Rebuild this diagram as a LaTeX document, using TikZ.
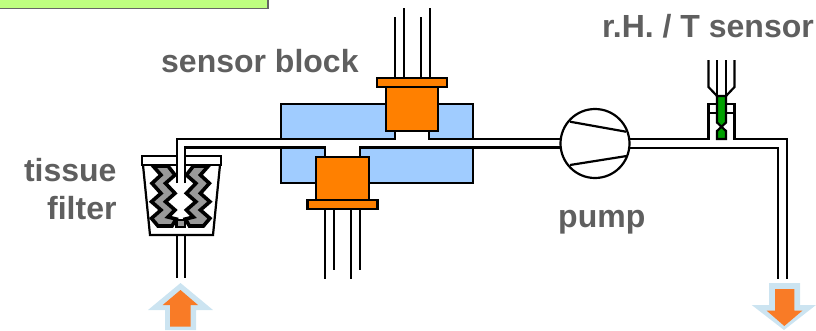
\documentclass[tikz,border=0pt]{standalone}
\usepackage{fontspec}
\setmainfont{Liberation Sans}
\definecolor{txtgray}{HTML}{5F5F5F}
\definecolor{blockblue}{HTML}{A0CCFF}
\definecolor{sensororange}{HTML}{FF8000}
\definecolor{arroworange}{HTML}{F97B26}
\definecolor{arrowblue}{HTML}{CCE4F1}
\definecolor{sensorgreen}{HTML}{00A000}
\definecolor{boxgreen}{HTML}{BEFF80}
\definecolor{bandgray}{HTML}{999999}
\tikzset{
  pipe/.style={draw=black,line width=2.2pt,line join=miter},
  pin/.style={draw=black,line width=2pt},
  block/.style={draw=black,line width=2.2pt,fill=blockblue},
  sensorpart/.style={draw=black,line width=2.2pt,fill=sensororange},
  band/.style={draw=black,line width=3.6pt,fill=bandgray,line join=miter},
  label/.style={inner sep=0pt,anchor=base,text=txtgray,font=\fontsize{32}{32}\selectfont\bfseries},
}
\newcommand{\filterband}{%
  \path[band] (153,166)--(161,175)--(152,183.3)--(161,193.3)--(151.5,201.7)--(161,210)--(151.5,218.3)--(158,226)--(172,226)--(176,219)--(168,217)--(175,210)--(165.5,201.7)--(175,193.3)--(165.5,183.3)--(175,175)--(168,166)--cycle;
}
\begin{document}
\begin{tikzpicture}[x=1pt,y=-1pt]
\useasboundingbox (0,0) rectangle (816,330);
% green box
\fill[boxgreen] (0,0) rectangle (268,8.5);
\draw[draw=black!60,line width=1.6pt] (0,8.5)--(268,8.5)--(268,0);
% sensor block bodies
\path[block] (281,104) rectangle (473,139);
\path[block] (281,147.5) rectangle (473,183);
% tube interior
\fill[white] (177,139) rectangle (560,147.5);
\fill[white] (395,130) rectangle (429,140);
\fill[white] (325,147) rectangle (360,157);
% sensors
\path[sensorpart] (386,87) rectangle (438,131);
\path[sensorpart] (377,78) rectangle (447,87);
\path[sensorpart] (316,157) rectangle (369,200);
\path[sensorpart] (307.5,200) rectangle (377.5,209);
% pins
\draw[pin] (394.5,17)--(394.5,78);
\draw[pin] (403.5,8)--(403.5,78);
\draw[pin] (420.5,17)--(420.5,78);
\draw[pin] (429.5,8)--(429.5,78);
\draw[pin] (325,209)--(325,279);
\draw[pin] (333.5,209)--(333.5,270);
\draw[pin] (351,209)--(351,279);
\draw[pin] (359.5,209)--(359.5,270);
% filter cup
\path[pipe] (142,156) rectangle (221,165);
\path[pipe] (143,165)--(150,235)--(213,235)--(220,165);
\filterband
\begin{scope}[xshift=361.4pt,xscale=-1]
\filterband
\end{scope}
\path[draw=black,line width=2.2pt,fill=bandgray] (176.5,220) rectangle (185,227);
% tube through the cup
\fill[white] (177,147) rectangle (185,183);
% main tube lines
\draw[pipe] (177,183)--(177,139)--(395,139)--(395,131);
\draw[pipe] (429,131)--(429,139)--(562,139);
\draw[pipe] (185,183)--(185,147.5)--(325,147.5)--(325,157);
\draw[pipe] (360,157)--(360,147.5)--(562,147.5);
% lower tube
\draw[pipe] (177,235)--(177,278);
\draw[pipe] (185,235)--(185,278);
% pump
\node[circle,draw=black,line width=2.2pt,fill=white,minimum size=69pt,inner sep=0pt] (pump) at (595,143.5) {};
\draw[pipe] (570,121.7)--(626,131.7);
\draw[pipe] (570,165)--(626.7,156);
% right tube with sensor T
\draw[pipe] (629,139.3)--(708.5,139.3)--(708.5,104)--(734.5,104)--(734.5,139.3)--(787.3,139.3)--(787.3,279);
\draw[pipe] (629,147.7)--(778.3,147.7)--(778.3,279);
\draw[pipe] (708.5,113.3)--(734.5,113.3);
% humidity sensor
\path[draw=black,line width=2.2pt,fill=sensorgreen,line join=miter] (717,96)--(726,96)--(726,122.5)--(717,131)--(717,139)--(726,139)--(726,131)--(717,122.5)--cycle;
\draw[pipe] (708.5,60)--(708.5,87)--(717,96);
\draw[pipe] (734.5,60)--(734.5,87)--(726,96);
\draw[pipe] (717,60)--(717,96);
\draw[pipe] (726,60)--(726,96);
% flow arrows
\fill[arrowblue] (180.5,283)--(213,310)--(196,310)--(196,330)--(165,330)--(165,310)--(148,310)--cycle;
\fill[arroworange] (180.5,290)--(198,305)--(190.7,305)--(190.7,326.7)--(170,326.7)--(170,305)--(162.7,305)--cycle;
\fill[arrowblue] (784,330)--(816,305)--(800,305)--(800,283)--(769,283)--(769,305)--(751.7,305)--cycle;
\fill[arroworange] (784.3,326)--(802.3,310.7)--(794.3,310.7)--(794.3,289)--(775,289)--(775,310.7)--(766.7,310.7)--cycle;
% labels
\node[label,anchor=base west] (lblblock) at (161,72.5) {sensor block};
\node[label,anchor=base east] (lbltissue) at (116.7,181.5) {tissue};
\node[label,anchor=base east] (lblfilter) at (116.7,219.3) {filter};
\node[label,anchor=base west] (lblrh) at (602,37) {r.H. / T sensor};
\node[label,anchor=base west] (lblpump) at (558,227) {pump};
\end{tikzpicture}
\end{document}
